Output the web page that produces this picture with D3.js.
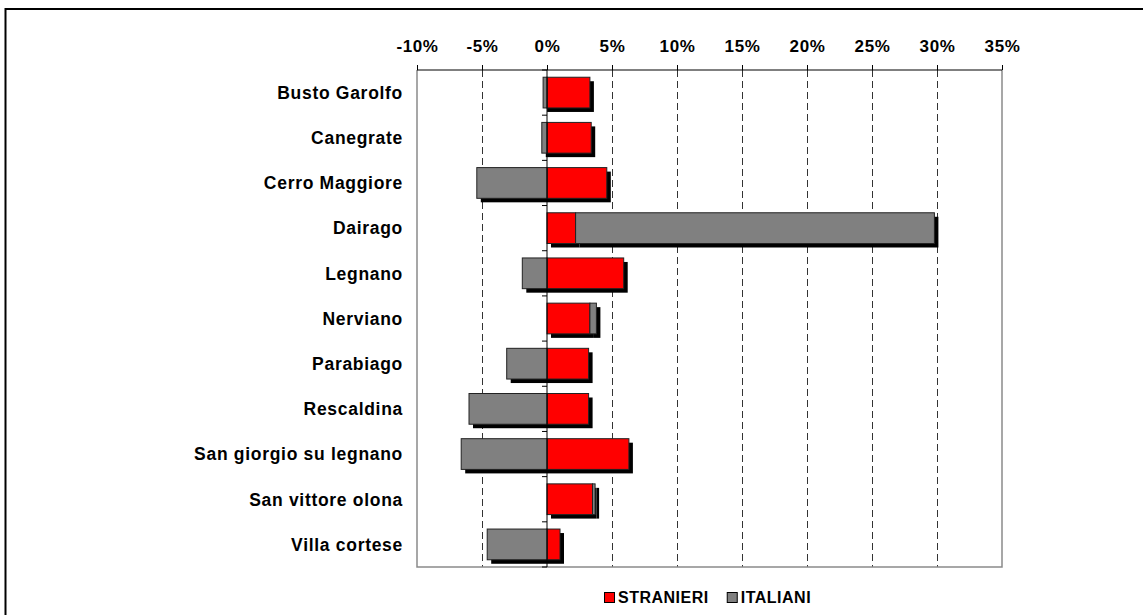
<!DOCTYPE html>
<html>
<head>
<meta charset="utf-8">
<script src="https://cdn.jsdelivr.net/npm/d3@7"></script>
<style>
  body { margin: 0; background: #fff; }
  text { font-family: "Liberation Sans", Arial, sans-serif; font-weight: bold; fill: #000; }
</style>
</head>
<body>
<div id="chart"></div>
<script>
// comuni
const categories = ['Busto Garolfo', 'Canegrate', 'Cerro Maggiore', 'Dairago', 'Legnano', 'Nerviano',
  'Parabiago', 'Rescaldina', 'San giorgio su legnano', 'San vittore olona', 'Villa cortese'];
// variazione %, stranieri e italiani
const stranieri = [3.3, 3.4, 4.6, 2.2, 5.9, 3.3, 3.2, 3.2, 6.3, 3.5, 1.0];
const italiani = [-0.3, -0.4, -5.4, 27.6, -1.9, 0.5, -3.1, -6.0, -6.6, 0.2, -4.6];
const seriesNames = ['STRANIERI', 'ITALIANI'];
const tickValues = [-10, -5, 0, 5, 10, 15, 20, 25, 30, 35];

const width = 1143, height = 615;
const colors = { STRANIERI: '#ff0000', ITALIANI: '#808080' };

const rows = categories.map((c, i) => ({ name: c, STRANIERI: stranieri[i], ITALIANI: italiani[i] }));

const svg = d3.select('#chart').append('svg')
  .attr('width', width)
  .attr('height', height);

// cornice esterna
svg.append('rect')
  .attr('x', 5.5).attr('y', 9)
  .attr('width', 1300).attr('height', 800)
  .attr('fill', 'none')
  .attr('stroke', '#000')
  .attr('stroke-width', 2);

const x = d3.scaleLinear().domain([-10, 35]).range([417, 1002]);
const y = d3.scaleBand().domain(categories).range([70, 567]).paddingInner(0.32).paddingOuter(0.16);

// griglia tratteggiata
svg.append('g')
  .selectAll('line')
  .data(tickValues.filter(t => t !== -10 && t !== 0 && t !== 35))
  .enter().append('line')
  .attr('x1', d => x(d) + 0.5).attr('x2', d => x(d) + 0.5)
  .attr('y1', 70).attr('y2', 567)
  .attr('stroke', '#333')
  .attr('stroke-dasharray', '7,4');

// bordo area grafico
svg.append('path')
  .attr('d', `M${x(-10)},70V567H${x(35)}V70`)
  .attr('fill', 'none')
  .attr('stroke', '#8a8a8a')
  .attr('stroke-width', 1.5);

const stack = d3.stack().keys(seriesNames).offset(d3.stackOffsetDiverging);
const stacked = stack(rows);

// ombre
const shadow = svg.append('g');
stacked.forEach(s => {
  shadow.selectAll(null)
    .data(s)
    .enter().append('rect')
    .attr('x', d => x(Math.min(d[0], d[1])) + 4)
    .attr('y', d => y(d.data.name) + 4)
    .attr('width', d => Math.abs(x(d[1]) - x(d[0])))
    .attr('height', y.bandwidth())
    .attr('fill', '#000');
});

// barre
const bars = svg.append('g');
stacked.forEach(s => {
  bars.selectAll(null)
    .data(s)
    .enter().append('rect')
    .attr('x', d => x(Math.min(d[0], d[1])))
    .attr('y', d => y(d.data.name))
    .attr('width', d => Math.abs(x(d[1]) - x(d[0])))
    .attr('height', y.bandwidth())
    .attr('fill', colors[s.key])
    .attr('stroke', '#222')
    .attr('stroke-width', 1);
});

// asse verticale sullo zero, con tacche tra le categorie
svg.append('line')
  .attr('x1', x(0)).attr('x2', x(0))
  .attr('y1', 70).attr('y2', 567)
  .attr('stroke', '#000');
svg.append('g')
  .selectAll('line')
  .data(d3.range(categories.length + 1))
  .enter().append('line')
  .attr('x1', x(0) - 5).attr('x2', x(0))
  .attr('y1', i => 70 + i * y.step())
  .attr('y2', i => 70 + i * y.step())
  .attr('stroke', '#000');

// etichette categorie
svg.append('g')
  .selectAll('text')
  .data(categories)
  .enter().append('text')
  .attr('x', 403)
  .attr('y', d => y(d) + y.bandwidth() / 2)
  .attr('dy', '0.36em')
  .attr('text-anchor', 'end')
  .style('font-size', '17.5px')
  .style('letter-spacing', '0.7px')
  .text(d => d);

// asse x in alto
const xAxis = d3.axisTop(x)
  .tickValues(tickValues)
  .tickSize(5)
  .tickFormat(d => d + '%');
const gx = svg.append('g')
  .attr('transform', 'translate(0,70)')
  .call(xAxis);
gx.select('.domain').attr('stroke', '#000').attr('d', `M${x(-10)},0H${x(35)}`);
gx.selectAll('.tick line').attr('stroke', '#000');
gx.selectAll('.tick text')
  .attr('y', -18)
  .style('font-size', '17px')
  .style('letter-spacing', '0.6px')
  .style('font-family', '"Liberation Sans", Arial, sans-serif')
  .style('font-weight', 'bold')
  .attr('fill', '#000');

// legenda
const legend = svg.append('g').attr('transform', 'translate(604,592)');
let lx = 0;
seriesNames.forEach(name => {
  const item = legend.append('g').attr('transform', `translate(${lx},0)`);
  item.append('rect')
    .attr('x', 0.5).attr('y', 0.5)
    .attr('width', 10).attr('height', 10)
    .attr('fill', colors[name])
    .attr('stroke', '#000');
  const t = item.append('text')
    .attr('x', 14).attr('y', 11)
    .style('font-size', '16px')
    .style('letter-spacing', '0.5px')
    .text(name);
  lx += 14 + t.node().getComputedTextLength() + 18;
});
</script>
</body>
</html>
